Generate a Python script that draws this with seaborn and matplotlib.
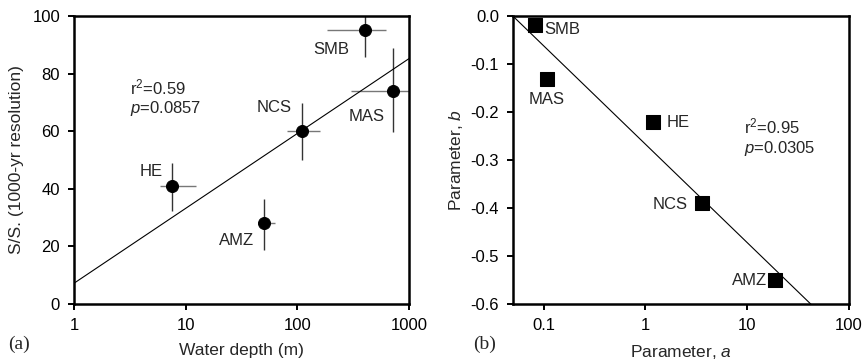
import numpy as np
import pandas as pd
import matplotlib
matplotlib.use("Agg")
import matplotlib.pyplot as plt
import matplotlib.ticker as mticker
import seaborn as sns

# panel (a): water depth vs S/S.
sites_a = ["HE", "AMZ", "NCS", "SMB", "MAS"]
depth = [7.6, 50.5, 110, 400, 720]
depth_lo = [5.9, 45.8, 81.5, 183, 302]
depth_hi = [12.4, 63.6, 159, 627, 1000]
ss = [41, 28, 60, 95, 74]
ss_lo = [32.4, 18.8, 50, 85.6, 59.8]
ss_hi = [48.8, 36.5, 69.9, 104, 89]
fit_a = (7.2, 26.0)  # intercept, slope per decade

# panel (b): parameter a vs parameter b
sites_b = ["SMB", "MAS", "HE", "NCS", "AMZ"]
par_a = [0.0815, 0.109, 1.18, 3.58, 18.8]
par_b = [-0.019, -0.131, -0.221, -0.39, -0.551]
fit_b = (-0.267, -0.205)

sns.set_style("ticks")
plt.rcParams["font.family"] = ["Liberation Sans", "DejaVu Sans"]
plt.rcParams["mathtext.fontset"] = "custom"
plt.rcParams["mathtext.rm"] = "Liberation Sans"
plt.rcParams["mathtext.it"] = "Liberation Sans:italic"
FS = 12

fig = plt.figure(figsize=(8.63, 3.62), dpi=100)
ax1 = fig.add_axes([0.0857, 0.1602, 0.3882, 0.7956])
ax2 = fig.add_axes([0.5944, 0.1602, 0.3893, 0.7956])

da = pd.DataFrame({"site": sites_a, "depth": depth, "ss": ss})
db = pd.DataFrame({"site": sites_b, "a": par_a, "b": par_b})

# ---- (a)
ax1.set_xscale("log")
ax1.set_xlim(1, 1000)
ax1.set_ylim(0, 100)
xerr = [np.array(depth) - np.array(depth_lo), np.array(depth_hi) - np.array(depth)]
yerr = [np.array(ss) - np.array(ss_lo), np.array(ss_hi) - np.array(ss)]
ax1.errorbar(depth, ss, xerr=xerr, fmt="none", ecolor="#777777", elinewidth=1, capsize=0)
ax1.errorbar(depth, ss, yerr=yerr, fmt="none", ecolor="#333333", elinewidth=1, capsize=0)
xs = np.logspace(0, 3, 50)
sns.lineplot(x=xs, y=fit_a[0] + fit_a[1] * np.log10(xs), ax=ax1, color="black", lw=0.8)
sns.scatterplot(data=da, x="depth", y="ss", ax=ax1, marker="o", s=75,
                color="black", edgecolor="black", zorder=5)
lab_a = {"HE": (4.9, 46, "center"), "AMZ": (28.7, 22, "center"),
         "NCS": (62, 68.3, "center"), "SMB": (203, 88.2, "center"),
         "MAS": (417, 65, "center")}
for name, (tx, ty, ha) in lab_a.items():
    ax1.text(tx, ty, name, ha=ha, va="center", fontsize=FS)
ax1.text(3.2, 75.2, "r$^2$=0.59", ha="left", va="center", fontsize=FS)
ax1.text(3.2, 68, "$p$=0.0857", ha="left", va="center", fontsize=FS)
ax1.set_xticks([1, 10, 100, 1000])
ax1.xaxis.set_major_formatter(mticker.FuncFormatter(lambda v, p: f"{v:g}"))
ax1.xaxis.set_minor_locator(mticker.NullLocator())
ax1.set_yticks([0, 20, 40, 60, 80, 100])
ax1.set_xlabel("Water depth (m)", fontsize=12.5, labelpad=7)
ax1.set_ylabel("S/S. (1000-yr resolution)", fontsize=12.5, labelpad=6)

# ---- (b)
ax2.set_xscale("log")
ax2.set_xlim(0.05, 100)
ax2.set_ylim(-0.6, 0)
xs2 = np.logspace(np.log10(0.05), 2, 50)
sns.lineplot(x=xs2, y=fit_b[0] + fit_b[1] * np.log10(xs2), ax=ax2, color="black", lw=0.8)
sns.scatterplot(data=db, x="a", y="b", ax=ax2, marker="s", s=90,
                color="black", edgecolor="black", zorder=5)
lab_b = {"SMB": (0.102, -0.029, "left"), "MAS": (0.108, -0.173, "center"),
         "HE": (1.6, -0.222, "left"), "NCS": (2.6, -0.392, "right"),
         "AMZ": (15.8, -0.552, "right")}
for name, (tx, ty, ha) in lab_b.items():
    ax2.text(tx, ty, name, ha=ha, va="center", fontsize=FS)
ax2.text(9.3, -0.231, "r$^2$=0.95", ha="left", va="center", fontsize=FS)
ax2.text(9.3, -0.276, "$p$=0.0305", ha="left", va="center", fontsize=FS)
ax2.set_xticks([0.1, 1, 10, 100])
ax2.xaxis.set_major_formatter(mticker.FuncFormatter(lambda v, p: f"{v:g}"))
ax2.xaxis.set_minor_locator(mticker.NullLocator())
ax2.set_yticks([0, -0.1, -0.2, -0.3, -0.4, -0.5, -0.6])
ax2.yaxis.set_major_formatter(mticker.FormatStrFormatter("%.1f"))
ax2.set_xlabel("Parameter, $a$", fontsize=12.5, labelpad=7)
ax2.set_ylabel("Parameter, $b$", fontsize=12.5, labelpad=4)

for ax in (ax1, ax2):
    ax.legend_ = None
    for sp in ax.spines.values():
        sp.set_visible(True)
        sp.set_linewidth(1.8)
        sp.set_color("black")
    ax.tick_params(direction="out", length=4, width=1.4, pad=6, labelsize=FS, colors="black")

fig.text(0.009, 0.035, "(a)", family=["Liberation Serif"], fontsize=14)
fig.text(0.548, 0.035, "(b)", family=["Liberation Serif"], fontsize=14)

fig.savefig("out.png", dpi=100)
